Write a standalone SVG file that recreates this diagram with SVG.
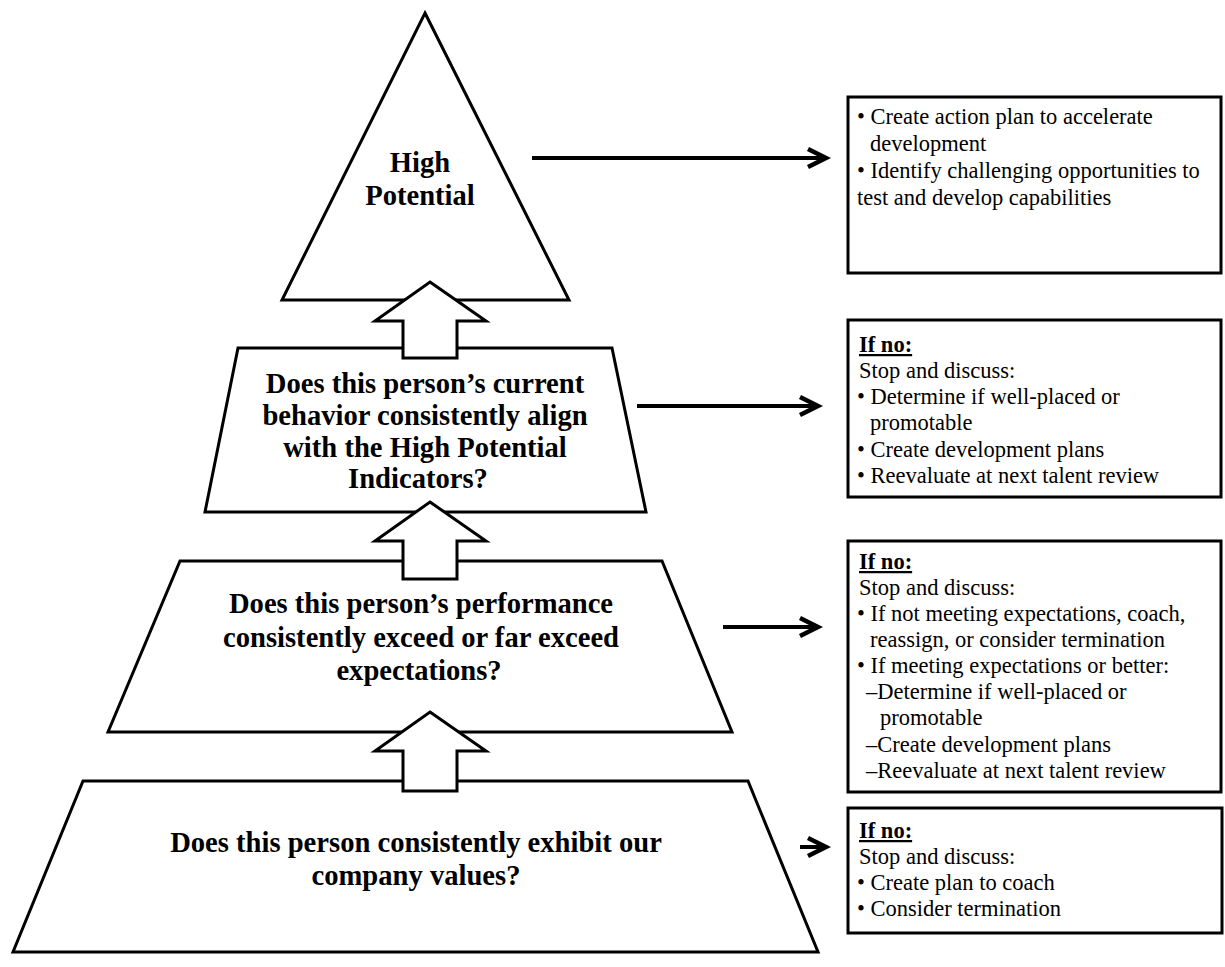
<svg xmlns="http://www.w3.org/2000/svg" width="1225" height="967" viewBox="0 0 1225 967">
<style>
.shape{fill:#fff;stroke:#000;stroke-width:3;stroke-linejoin:miter}
.box{fill:#fff;stroke:#000;stroke-width:3}
.conn{stroke:#000;stroke-width:4;fill:none}
.big{font-family:"Liberation Serif","Times New Roman",serif;font-weight:bold;font-size:28.6px;text-anchor:middle;fill:#000}
.sm{font-family:"Liberation Serif","Times New Roman",serif;font-size:22.5px;fill:#000}
.hd{font-weight:bold;text-decoration:underline}
</style>
<defs>
<marker id="ah" markerUnits="userSpaceOnUse" markerWidth="26" markerHeight="26" refX="20" refY="12" orient="auto" overflow="visible">
<path d="M2,3 L20,12 L2,21" fill="none" stroke="#000" stroke-width="4.5" stroke-linejoin="miter"/>
</marker>
</defs>
<rect width="1225" height="967" fill="#fff"/>
<g id="level-high-potential">
<polygon class="shape" points="425,13 569,300 282,300"/>
<text class="big" x="420" y="172">High</text>
<text class="big" x="420" y="205">Potential</text>
</g>
<g id="level-behavior">
<polygon class="shape" points="238,348 612,348 646,512 205,512"/>
<text class="big" x="425" y="393">Does this person’s current</text>
<text class="big" x="425" y="425">behavior consistently align</text>
<text class="big" x="425" y="457">with the High Potential</text>
<text class="big" x="418" y="488">Indicators?</text>
</g>
<g id="level-performance">
<polygon class="shape" points="180,561 662,561 732,732 108,732"/>
<text class="big" x="421" y="613">Does this person’s performance</text>
<text class="big" x="421" y="647">consistently exceed or far exceed</text>
<text class="big" x="419" y="680">expectations?</text>
</g>
<g id="level-values">
<polygon class="shape" points="83,781 748,781 818,952 13,952"/>
<text class="big" x="416" y="852">Does this person consistently exhibit our</text>
<text class="big" x="416" y="885">company values?</text>
</g>
<g id="connectors">
<polygon class="shape" points="430,282 486,321 457,321 457,358 403,358 403,321 375,321"/>
<polygon class="shape" points="430,502 486,541 457,541 457,579 403,579 403,541 375,541"/>
<polygon class="shape" points="430,712 486,751 457,751 457,791 403,791 403,751 375,751"/>
<line class="conn" x1="532" y1="158" x2="826" y2="158" marker-end="url(#ah)"/>
<line class="conn" x1="637" y1="406" x2="818" y2="406" marker-end="url(#ah)"/>
<line class="conn" x1="723" y1="627" x2="818" y2="627" marker-end="url(#ah)"/>
<line class="conn" x1="800" y1="847" x2="826" y2="847" marker-end="url(#ah)"/>
</g>
<g id="box-high-potential">
<rect class="box" x="848" y="97" width="373" height="176"/>
<text class="sm" x="857" y="124">• Create action plan to accelerate</text>
<text class="sm" x="870" y="151">development</text>
<text class="sm" x="857" y="178">• Identify challenging opportunities to</text>
<text class="sm" x="857" y="205">test and develop capabilities</text>
</g>
<g id="box-behavior">
<rect class="box" x="848" y="320" width="373" height="177"/>
<text class="sm hd" x="859" y="352">If no:</text>
<text class="sm" x="859" y="378">Stop and discuss:</text>
<text class="sm" x="857" y="404">• Determine if well-placed or</text>
<text class="sm" x="870" y="430">promotable</text>
<text class="sm" x="857" y="457">• Create development plans</text>
<text class="sm" x="857" y="483">• Reevaluate at next talent review</text>
</g>
<g id="box-performance">
<rect class="box" x="848" y="541" width="373" height="251"/>
<text class="sm hd" x="859" y="569">If no:</text>
<text class="sm" x="859" y="595">Stop and discuss:</text>
<text class="sm" x="857" y="621">• If not meeting expectations, coach,</text>
<text class="sm" x="870" y="647">reassign, or consider termination</text>
<text class="sm" x="857" y="673">• If meeting expectations or better:</text>
<text class="sm" x="866" y="699">–Determine if well-placed or</text>
<text class="sm" x="880" y="725">promotable</text>
<text class="sm" x="866" y="752">–Create development plans</text>
<text class="sm" x="866" y="778">–Reevaluate at next talent review</text>
</g>
<g id="box-values">
<rect class="box" x="848" y="808" width="374" height="125"/>
<text class="sm hd" x="859" y="838">If no:</text>
<text class="sm" x="859" y="864">Stop and discuss:</text>
<text class="sm" x="857" y="890">• Create plan to coach</text>
<text class="sm" x="857" y="916">• Consider termination</text>
</g>
</svg>
